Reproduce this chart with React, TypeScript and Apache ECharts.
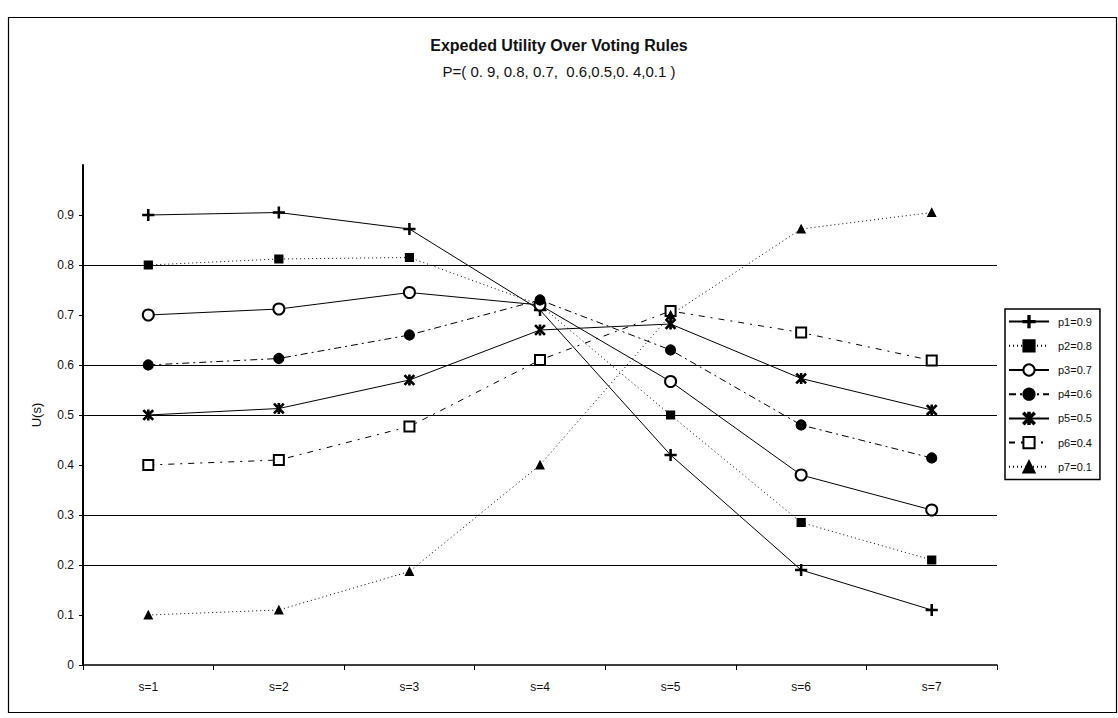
import React, { useEffect, useRef } from "react";
import * as echarts from "echarts";

const categories = ["s=1", "s=2", "s=3", "s=4", "s=5", "s=6", "s=7"];
const seriesNames = ["p1=0.9", "p2=0.8", "p3=0.7", "p4=0.6", "p5=0.5", "p6=0.4", "p7=0.1"];
const p1 = [0.9, 0.905, 0.872, 0.71, 0.42, 0.19, 0.11];
const p2 = [0.8, 0.812, 0.815, 0.72, 0.5, 0.285, 0.21];
const p3 = [0.7, 0.712, 0.745, 0.72, 0.567, 0.38, 0.31];
const p4 = [0.6, 0.613, 0.66, 0.73, 0.63, 0.48, 0.414];
const p5 = [0.5, 0.513, 0.57, 0.67, 0.682, 0.573, 0.51];
const p6 = [0.4, 0.41, 0.477, 0.61, 0.708, 0.665, 0.609];
const p7 = [0.1, 0.11, 0.187, 0.4, 0.7, 0.872, 0.905];
const gridValues = [0.2, 0.3, 0.5, 0.6, 0.8];

const titleText = "Expeded Utility Over Voting Rules";
const subtitleText = "P=( 0. 9, 0.8, 0.7,  0.6,0.5,0. 4,0.1 )";
const yName = "U(s)";

const PLUS =
  "path://M4.4,0 L5.6,0 L5.6,4.4 L10,4.4 L10,5.6 L5.6,5.6 L5.6,10 L4.4,10 L4.4,5.6 L0,5.6 L0,4.4 L4.4,4.4 Z";
const ASTER =
  "path://M0,1 L1,0 L5,4 L9,0 L10,1 L6,5 L10,9 L9,10 L5,6 L1,10 L0,9 L4,5 Z M4.3,0 L5.7,0 L5.7,10 L4.3,10 Z";

const FONT = "'Liberation Sans', Arial, sans-serif";

export default function App() {
  const ref = useRef<HTMLDivElement>(null);
  useEffect(() => {
    if (!ref.current) return;
    const chart = echarts.init(ref.current, undefined, { renderer: "svg" });
    const values = [p1, p2, p3, p4, p5, p6, p7];
    const symbols = [PLUS, "rect", "emptyCircle", "circle", ASTER, "emptyRect", "triangle"];
    const sizes = [11, 8, 11, 10, 10, 10, 8];
    const dashes: any[] = [
      "solid",
      [1, 3],
      "solid",
      [7, 4, 2, 4],
      "solid",
      [6, 6, 2, 6],
      [1, 3],
    ];
    const series: any[] = values.map((d, i) => ({
      name: seriesNames[i],
      type: "line",
      data: d,
      symbol: symbols[i],
      symbolSize: sizes[i],
      showAllSymbol: true,
      lineStyle: { color: "#000", width: 1, type: dashes[i] },
      itemStyle: { color: "#000", borderColor: "#000", borderWidth: 1.2 },
      z: 3,
    }));
    series[0].markLine = {
      silent: true,
      symbol: "none",
      label: { show: false },
      lineStyle: { color: "#000", width: 1.2, type: "solid" },
      data: gridValues.map((v) => ({ yAxis: v })),
      z: 1,
    };
    chart.setOption({
      animation: false,
      backgroundColor: "#fff",
      textStyle: { fontFamily: FONT },
      title: [
        {
          text: titleText,
          left: "center",
          top: 37,
          padding: 0,
          textStyle: { fontSize: 16, fontWeight: "bold", color: "#111", fontFamily: FONT },
        },
        {
          text: subtitleText,
          left: "center",
          top: 64,
          padding: 0,
          textStyle: { fontSize: 15, fontWeight: "normal", color: "#111", fontFamily: FONT },
        },
      ],
      legend: {
        orient: "vertical",
        left: 1005,
        top: 309,
        padding: [6, 8, 6, 3],
        itemGap: 11,
        itemWidth: 40,
        itemHeight: 14,
        borderColor: "#000",
        borderWidth: 1.5,
        data: seriesNames,
        textStyle: { fontSize: 11, color: "#111", fontFamily: FONT, padding: [0, 0, 0, 4] },
      },
      grid: { left: 83, right: 121, top: 165, bottom: 53, containLabel: false },
      xAxis: {
        type: "category",
        data: categories,
        boundaryGap: true,
        axisLine: { lineStyle: { color: "#000", width: 1.5 } },
        axisTick: { show: true, length: 5, lineStyle: { color: "#000" } },
        axisLabel: { color: "#111", fontSize: 12, margin: 16, fontFamily: FONT },
        splitLine: { show: false },
      },
      yAxis: {
        type: "value",
        min: 0,
        max: 1,
        interval: 0.1,
        name: yName,
        nameLocation: "middle",
        nameGap: 40,
        nameTextStyle: { color: "#111", fontSize: 13, fontFamily: FONT },
        axisLine: { show: true, lineStyle: { color: "#000", width: 2 } },
        axisTick: { show: true, length: 4, lineStyle: { color: "#000" } },
        axisLabel: {
          color: "#111",
          fontSize: 12,
          margin: 9,
          fontFamily: FONT,
          showMaxLabel: false,
          formatter: (v: number) => (v === 0 ? "0" : v.toFixed(1)),
        },
        splitLine: { show: false },
      },
      graphic: [
        {
          type: "rect",
          shape: { x: 8.5, y: 17.5, width: 1108, height: 695 },
          style: { fill: "none", stroke: "#000", lineWidth: 1.2 },
          silent: true,
          z: -1,
        },
      ],
      series,
    });
    return () => chart.dispose();
  }, []);
  return (
    <div
      ref={ref}
      style={{ position: "fixed", left: 0, top: 0, width: 1118, height: 718, background: "#fff" }}
    />
  );
}
